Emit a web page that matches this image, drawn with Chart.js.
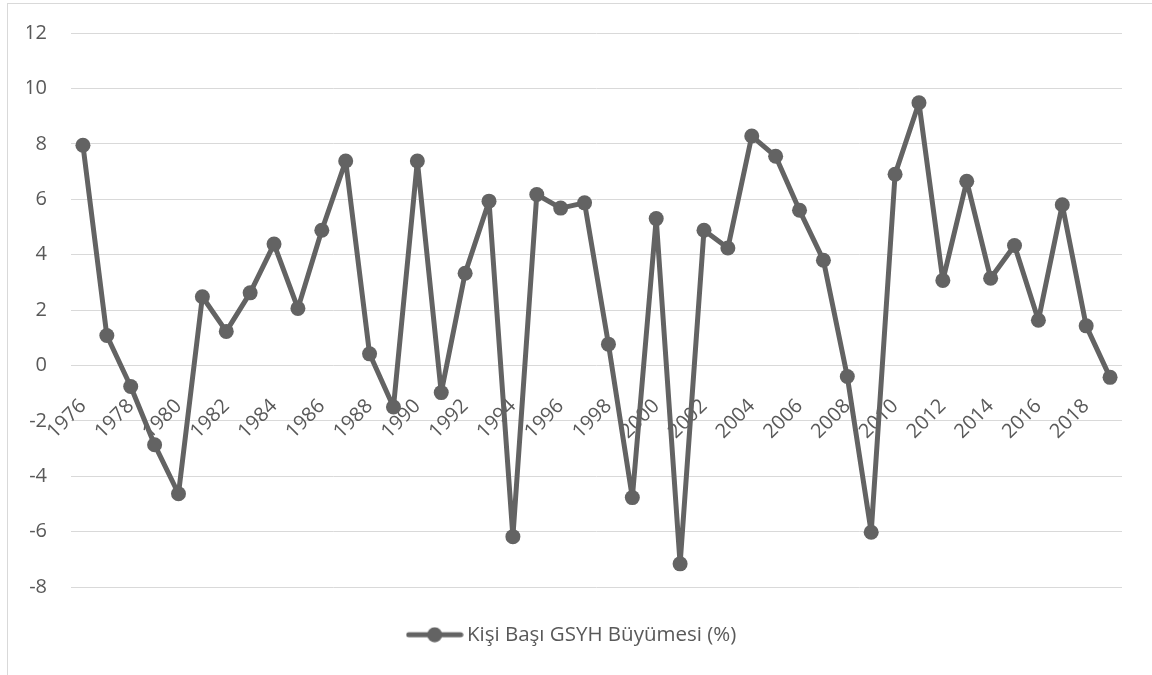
<!DOCTYPE html>
<html>
<head>
<meta charset="utf-8">
<script src="https://cdn.jsdelivr.net/npm/chart.js@4/dist/chart.umd.min.js"></script>
<style>
  html, body { margin: 0; padding: 0; background: #fff; }
  #frame { position: absolute; left: 7px; top: 3px; width: 1160px; height: 690px; border: 1px solid #d9d9d9; }
  #box { position: absolute; left: 0; top: 0; width: 1152px; height: 675px; }
</style>
</head>
<body>
<div id="frame"></div>
<div id="box"><canvas id="myChart"></canvas></div>
<script>
let years = [];
for (let y = 1976; y <= 2019; y++) years.push(String(y));

let growth = [
    7.95, 1.08, -0.76, -2.86, -4.63, 2.48, 1.23, 2.62, 4.38, 2.06,
    4.88, 7.38, 0.42, -1.5, 7.38, -0.98, 3.33, 5.93, -6.18, 6.17,
    5.68, 5.87, 0.77, -4.77, 5.3, -7.16, 4.88, 4.24, 8.28, 7.55,
    5.6, 3.8, -0.4, -6.02, 6.9, 9.48, 3.07, 6.65, 3.15, 4.33,
    1.63, 5.8, 1.43, -0.43
];

let seriesLabel = 'Kişi Başı GSYH Büyümesi (%)';
let yTicks = { min: -8, max: 12, step: 2 };

const GREY = '#636363';
const TEXT = '#595959';

function legendIcon() {
    let c = document.createElement('canvas');
    c.width = 58;
    c.height = 16;
    let ctx = c.getContext('2d');
    ctx.strokeStyle = GREY;
    ctx.lineWidth = 5;
    ctx.lineCap = 'round';
    ctx.beginPath();
    ctx.moveTo(3, 8);
    ctx.lineTo(55, 8);
    ctx.stroke();
    ctx.fillStyle = GREY;
    ctx.beginPath();
    ctx.arc(29, 8, 7.5, 0, Math.PI * 2);
    ctx.fill();
    return c;
}

function showChart() {
    let canvas = document.getElementById('myChart');
    let ctx = canvas.getContext('2d');
    new Chart(ctx, {
        type: 'line',
        data: {
            labels: years,
            datasets: [{
                label: seriesLabel,
                data: growth,
                borderColor: GREY,
                backgroundColor: GREY,
                borderWidth: 5,
                borderJoinStyle: 'round',
                borderCapStyle: 'round',
                pointRadius: 7.5,
                pointHoverRadius: 7.5,
                pointBackgroundColor: GREY,
                pointBorderWidth: 0,
                tension: 0
            }]
        },
        options: {
            responsive: true,
            maintainAspectRatio: false,
            animation: false,
            layout: { padding: { left: 27, right: 30, top: 33, bottom: 20 } },
            plugins: {
                tooltip: { enabled: false },
                legend: {
                    position: 'bottom',
                    title: { display: true, text: '', padding: 0, font: { size: 14.5 } },
                    labels: {
                        usePointStyle: true,
                        pointStyle: legendIcon(),
                        pointStyleWidth: 44,
                        color: TEXT,
                        font: { family: 'Open Sans', size: 20.5 },
                        padding: 20
                    }
                }
            },
            scales: {
                x: {
                    position: { y: 0 },
                    offset: true,
                    grid: { display: false },
                    border: { display: false },
                    ticks: {
                        autoSkip: false,
                        maxRotation: 45,
                        minRotation: 45,
                        padding: 21,
                        color: TEXT,
                        font: { family: 'Open Sans', size: 20 },
                        callback: function (value, index) {
                            return index % 2 === 0 ? years[index] : '';
                        }
                    }
                },
                y: {
                    min: yTicks.min,
                    max: yTicks.max,
                    afterFit: function (scale) {
                        scale.width = 44;
                        scale.paddingTop = 0;
                        scale.paddingBottom = 0;
                    },
                    grid: { color: '#d9d9d9', lineWidth: 1, drawTicks: false },
                    border: { display: false },
                    ticks: {
                        stepSize: yTicks.step,
                        padding: 24,
                        color: TEXT,
                        font: { family: 'Open Sans', size: 20 }
                    }
                }
            }
        }
    });
}

showChart();
</script>
</body>
</html>
